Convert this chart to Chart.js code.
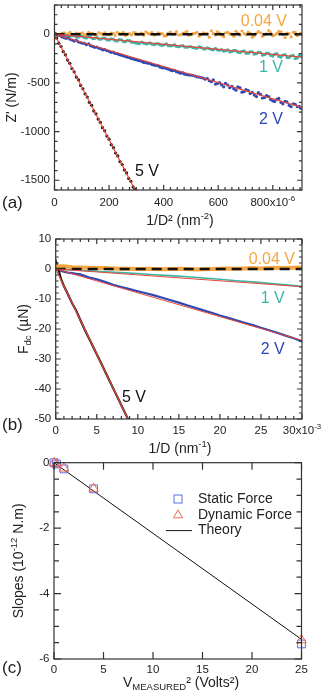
<!DOCTYPE html>
<html>
<head>
<meta charset="utf-8">
<script src="https://cdn.jsdelivr.net/npm/chart.js@4.4.0/dist/chart.umd.min.js"></script>
<style>
  body { margin: 0; background: #fff; }
  #wrap { position: relative; width: 321px; height: 695px; }
  canvas { position: absolute; left: 0; top: 0; }
</style>
</head>
<body>
<div id="wrap">
  <canvas id="chartA" width="321" height="695"></canvas>
  <canvas id="chartB" width="321" height="695"></canvas>
  <canvas id="chartC" width="321" height="695"></canvas>
</div>
<script>
// ---- panel (a) : Z' vs 1/D^2 (x in 1e-6 nm^-2) ----
const aX = [5,20,35,50,65,80,95,110,125,140,155,170,185,200,215,230,245,260,275,290,305,320,335,350,365,380,395,410,425,440,455,470,485,500,515,530,545,560,575,590,605,620,635,650,665,680,695,710,725,740,755,770,785,800,815,830,845,860,875,890,902];
const aY004 = [10,-5,15,2,-8,12,5,-3,18,8,-10,4,14,-6,9,20,3,-12,7,16,-4,11,25,0,-9,13,6,-15,22,4,-6,10,28,-2,8,-20,15,5,35,-8,12,-25,18,2,30,-10,6,22,-30,10,14,-5,38,-15,8,25,-35,5,18,-12,10];
const aY1V = [2,-8,-4,-20,-12,-28,-18,-35,-26,-45,-34,-52,-40,-60,-50,-70,-58,-78,-66,-85,-95,-80,-100,-88,-108,-96,-115,-100,-120,-110,-128,-118,-135,-126,-142,-130,-150,-140,-158,-146,-165,-175,-160,-178,-168,-190,-172,-195,-180,-200,-188,-210,-196,-225,-200,-235,-210,-240,-218,-245,-225];
const aY2V = [-2,-12,-35,-38,-60,-62,-85,-95,-100,-125,-132,-150,-158,-175,-185,-200,-215,-228,-240,-255,-268,-280,-292,-300,-318,-325,-345,-352,-368,-372,-392,-398,-415,-420,-430,-440,-450,-455,-488,-512,-498,-540,-522,-535,-575,-552,-590,-580,-598,-640,-618,-650,-640,-685,-668,-700,-690,-730,-715,-745,-760];
// second, interleaved set of readings
const aXb = [12,27,42,57,72,87,102,117,132,147,162,177,192,207,222,237,252,267,282,297,312,327,342,357,372,387,402,417,432,447,462,477,492,507,522,537,552,567,582,597,612,627,642,657,672,687,702,717,732,747,762,777,792,807,822,837,852,867,882,897];
const aY004b = [-3,8,1,20,-6,3,14,-2,6,-8,17,1,-4,11,-12,6,19,2,-7,13,4,-10,9,18,-3,7,-18,12,1,26,-6,15,-12,5,20,-4,10,-30,6,24,-8,15,3,-20,12,32,-5,8,-14,26,-22,4,17,-8,30,-2,12,-28,20,2];
const aY1Vb = [-10,-2,-16,-22,-14,-30,-22,-40,-30,-44,-48,-40,-58,-48,-66,-55,-74,-62,-82,-90,-96,-92,-98,-102,-100,-110,-108,-118,-116,-125,-122,-132,-130,-138,-145,-136,-152,-148,-160,-162,-158,-170,-182,-165,-185,-176,-198,-182,-205,-185,-215,-195,-218,-205,-228,-215,-238,-222,-250,-215];
const aY2Vb = [-6,-28,-42,-52,-70,-78,-92,-108,-118,-135,-142,-160,-168,-186,-198,-210,-222,-236,-250,-262,-272,-290,-298,-312,-320,-338,-345,-358,-375,-385,-400,-410,-418,-422,-438,-445,-462,-478,-470,-505,-520,-505,-550,-560,-540,-595,-570,-610,-625,-600,-655,-630,-670,-690,-660,-715,-695,-745,-720,-740];
const a5X = [0,8,16,24,32,40,48,56,64,72,80,88,96,104,112,120,128,136,144,152,160,168,176,184,192,200,208,216,224,232,240,248,256,264,272,280,288,294];
const a5Y = [5,-40,-92,-126,-178,-212,-266,-298,-352,-386,-440,-470,-526,-560,-612,-645,-700,-730,-788,-818,-872,-905,-960,-992,-1046,-1078,-1134,-1165,-1220,-1250,-1308,-1338,-1394,-1425,-1482,-1510,-1568,-1590];
const aFitX = [0, 907];
const aFit1Y = [0, -236];
const aFit2Y = [0, -752];
const aFit5X = [0, 296];
const aFit5Y = [0, -1604];
const aXTicks = [0, 200, 400, 600, 800];
const aXLabels = ['0', '200', '400', '600', '800x10^{-6}'];
const aYTicks = [0, -500, -1000, -1500];
const aYLabels = ['0', '-500', '-1000', '-1500'];

// ---- panel (b) : Fdc vs 1/D (x in 1e-3 nm^-1) ----
const b004X = [0,1,2,3,4,5,6,7,8,9,10,11,12,13,14,15,16,17,18,19,20,21,22,23,24,25,26,27,28,29,30];
const b004Y = [0.8,0.9,0.6,0.5,0.4,0.3,0.3,0.2,0.1,0.1,0.0,0.1,0.0,-0.1,0.0,0.1,0.0,-0.2,-0.1,0.0,0.1,0.2,0.1,0.2,0.3,0.2,0.3,0.4,0.3,0.4,0.5];
const b1X = [0,2,4,6,8,10,12,14,16,18,20,22,24,26,28,30];
const b1Y = [0,-0.3,-0.6,-0.9,-1.2,-1.5,-1.9,-2.2,-2.6,-3.0,-3.4,-3.9,-4.3,-4.8,-5.3,-5.8];
const b2X = [0,0.5,1,1.5,2,2.5,3,3.5,4,5,6,7,8,9,10,11,12,13,14,15,16,17,18,19,20,21,22,23,24,25,26,27,28,29,30];
const b2Y = [0,-0.5,-0.9,-1.2,-1.4,-1.6,-1.8,-2.3,-2.8,-3.4,-4.3,-5.3,-6.0,-6.7,-7.4,-8.1,-8.8,-9.6,-10.4,-11.2,-12.1,-12.9,-13.8,-14.6,-15.5,-16.3,-17.1,-17.9,-18.7,-19.6,-20.4,-21.3,-22.2,-23.1,-24.2];
const b5X = [0,0.1,0.3,0.6,1,1.5,2,2.5,3,3.5,4,4.5,5,5.5,6,6.5,7,7.5,8,8.5,9];
const b5Y = [0,2,0.5,-3.0,-5.7,-8.5,-11.4,-13.9,-17.0,-20.0,-22.8,-25.6,-28.4,-31.2,-34.1,-36.9,-39.8,-42.6,-45.4,-48.3,-51.1];
const bFitX = [0, 30];
const bFit1Y = [0, -5.9];
const bFit2Y = [0, -23.8];
const bFit5X = [0, 9];
const bFit5Y = [0, -51.1];
const bXTicks = [0, 5, 10, 15, 20, 25, 30];
const bXLabels = ['0', '5', '10', '15', '20', '25', '30x10^{-3}'];
const bYTicks = [10, 0, -10, -20, -30, -40, -50];
const bYLabels = ['10', '0', '-10', '-20', '-30', '-40', '-50'];

// ---- panel (c) : slopes vs V^2 ----
const cX = [0.0016, 0.25, 1, 4, 25];
const cStatic = [0, -0.04, -0.19, -0.80, -5.54];
const cDynamic = [0, -0.05, -0.17, -0.79, -5.42];
const cTheoryX = [0, 25];
const cTheoryY = [0, -5.40];
const cXTicks = [0, 5, 10, 15, 20, 25];
const cXLabels = ['0', '5', '10', '15', '20', '25'];
const cYTicks = [0, -2, -4, -6];
const cYLabels = ['0', '-2', '-4', '-6'];

const ORANGE = '#f5a63e';
const TEAL = '#3bb5a6';
const BLUE = '#2c48b4';
const RED = '#e8473a';
const FONT = '"Liberation Sans", Arial, sans-serif';

const pts = (xs, ys) => xs.map((x, i) => ({ x: x, y: ys[i] }));

// text with ^{sup} and _{sub} parts
function parseRich(str) {
  const segs = [];
  let i = 0, buf = '';
  while (i < str.length) {
    const c = str[i];
    if ((c === '^' || c === '_') && str[i + 1] === '{') {
      if (buf) { segs.push({ t: buf, k: 0 }); buf = ''; }
      const end = str.indexOf('}', i);
      segs.push({ t: str.slice(i + 2, end), k: c === '^' ? 1 : -1 });
      i = end + 1;
    } else { buf += c; i++; }
  }
  if (buf) segs.push({ t: buf, k: 0 });
  return segs;
}

function drawRich(ctx, str, x, y, size, align) {
  const segs = parseRich(str);
  const small = size * 0.68;
  let w = 0;
  segs.forEach(s => {
    ctx.font = (s.k ? small : size) + 'px ' + FONT;
    s.w = ctx.measureText(s.t).width;
    w += s.w;
  });
  let cx = align === 'center' ? x - w / 2 : align === 'right' ? x - w : x;
  ctx.textAlign = 'left';
  ctx.textBaseline = 'middle';
  segs.forEach(s => {
    ctx.font = (s.k ? small : size) + 'px ' + FONT;
    const dy = s.k === 1 ? -size * 0.36 : s.k === -1 ? size * 0.3 : 0;
    ctx.fillText(s.t, cx, y + dy);
    cx += s.w;
  });
}

// frame, inward ticks on all sides, labels, titles
function framePlugin(o) {
  return {
    id: 'frame',
    afterDatasetsDraw(chart) {
      const ctx = chart.ctx;
      const { left, right, top, bottom } = chart.chartArea;
      const xs = chart.scales.x, ys = chart.scales.y;
      ctx.save();
      ctx.strokeStyle = '#333';
      ctx.lineWidth = 1.2;
      ctx.beginPath();
      const tx = (v, len) => {
        const p = xs.getPixelForValue(v);
        ctx.moveTo(p, bottom); ctx.lineTo(p, bottom - len);
        ctx.moveTo(p, top); ctx.lineTo(p, top + len);
      };
      const ty = (v, len) => {
        const p = ys.getPixelForValue(v);
        ctx.moveTo(left, p); ctx.lineTo(left + len, p);
        ctx.moveTo(right, p); ctx.lineTo(right - len, p);
      };
      if (o.xMinor) for (let v = xs.min; v <= xs.max + 1e-9; v += o.xMinor) tx(v, o.minLen);
      if (o.yMinor) for (let v = ys.min; v <= ys.max + 1e-9; v += o.yMinor) ty(v, o.minLen);
      o.xTicks.forEach(v => tx(v, o.majLen));
      o.yTicks.forEach(v => ty(v, o.majLen));
      ctx.stroke();
      ctx.strokeRect(left, top, right - left, bottom - top);

      ctx.fillStyle = '#222';
      o.xTicks.forEach((v, i) => drawRich(ctx, o.xLabels[i], xs.getPixelForValue(v), bottom + o.xGap, 11.5, 'center'));
      o.yTicks.forEach((v, i) => drawRich(ctx, o.yLabels[i], left - 4.5, ys.getPixelForValue(v), 11.5, 'right'));
      drawRich(ctx, o.xTitle, o.xTitleX, o.xTitleY, 14, 'center');
      ctx.save();
      ctx.translate(o.yTitleX, (top + bottom) / 2);
      ctx.rotate(-Math.PI / 2);
      drawRich(ctx, o.yTitle, 0, 0, 14, 'center');
      ctx.restore();
      drawRich(ctx, o.panel, 2, o.panelY, 17, 'left');

      (o.notes || []).forEach(n => {
        ctx.fillStyle = n.color;
        drawRich(ctx, n.text, xs.getPixelForValue(n.x), ys.getPixelForValue(n.y), 16, n.align);
      });

      if (o.legend) {
        const L = o.legend;
        ctx.lineWidth = 1;
        ctx.strokeStyle = '#5b6ee1';
        ctx.strokeRect(L.x - 4, L.y - 4, 8, 8);
        ctx.strokeStyle = '#ef6a5a';
        ctx.beginPath();
        ctx.moveTo(L.x, L.y + L.dy - 5);
        ctx.lineTo(L.x + 4.5, L.y + L.dy + 3);
        ctx.lineTo(L.x - 4.5, L.y + L.dy + 3);
        ctx.closePath();
        ctx.stroke();
        ctx.strokeStyle = '#111';
        ctx.beginPath();
        ctx.moveTo(L.x - 12, L.y + 2 * L.dy);
        ctx.lineTo(L.x + 14, L.y + 2 * L.dy);
        ctx.stroke();
        ctx.fillStyle = '#222';
        L.items.forEach((t, i) => drawRich(ctx, t, L.x + 20, L.y + i * L.dy, 14, 'left'));
      }
      ctx.restore();
    }
  };
}

function makeChart(id, padding, xr, yr, datasets, frame) {
  return new Chart(document.getElementById(id), {
    type: 'scatter',
    data: { datasets: datasets },
    options: {
      responsive: false,
      animation: false,
      devicePixelRatio: 1,
      layout: { padding: padding },
      plugins: { legend: { display: false }, tooltip: { enabled: false } },
      scales: {
        x: { type: 'linear', display: false, min: xr[0], max: xr[1] },
        y: { type: 'linear', display: false, min: yr[0], max: yr[1] }
      }
    },
    plugins: [framePlugin(frame)]
  });
}

const dot = (xs, ys, color, order) => ({
  data: pts(xs, ys), pointRadius: 1.6, pointBackgroundColor: color,
  pointBorderWidth: 0, showLine: false, order: order
});
const line = (xs, ys, color, width, order, dash) => ({
  data: pts(xs, ys), showLine: true, borderColor: color, borderWidth: width,
  borderDash: dash || [], pointRadius: 0, order: order
});

makeChart('chartA', { left: 54.5, top: 5, right: 19, bottom: 505 }, [0, 907], [-1600, 300], [
  line(aFitX, aFit1Y, RED, 1.2, 0),
  line(aFitX, aFit2Y, RED, 1.2, 0),
  line(aFit5X, aFit5Y, RED, 1.2, 0),
  line(aFitX, [0, 0], '#111', 2.5, 1, [10, 6]),
  dot(a5X, a5Y, '#111', 2),
  dot(aX, aY2V, BLUE, 3),
  dot(aXb, aY2Vb, BLUE, 3),
  dot(aX, aY1V, TEAL, 4),
  dot(aXb, aY1Vb, TEAL, 4),
  dot(aX, aY004, ORANGE, 5),
  dot(aXb, aY004b, ORANGE, 5)
], {
  xTicks: aXTicks, xLabels: aXLabels, yTicks: aYTicks, yLabels: aYLabels,
  xMinor: 25, yMinor: 100, majLen: 5, minLen: 3, xGap: 12.5,
  xTitle: '1/D² (nm^{-2})', xTitleX: 180, xTitleY: 221,
  yTitle: "Z' (N/m)", yTitleX: 12, panel: '(a)', panelY: 203,
  notes: [
    { text: '0.04 V', x: 852, y: 128, color: ORANGE, align: 'right' },
    { text: '1 V', x: 837, y: -347, color: TEAL, align: 'right' },
    { text: '2 V', x: 837, y: -882, color: BLUE, align: 'right' },
    { text: '5 V', x: 295, y: -1415, color: '#111', align: 'left' }
  ]
});

makeChart('chartB', { left: 55.7, top: 239, right: 19, bottom: 276 }, [0, 30], [-50, 10], [
  line(bFitX, bFit1Y, RED, 1, 0),
  line(bFitX, bFit2Y, RED, 1, 0),
  line(bFit5X, bFit5Y, RED, 1.2, 0),
  line(bFitX, [0, 0], '#111', 2.5, 1, [10, 6]),
  line(b004X, b004Y, ORANGE, 4, 2),
  line(b5X, b5Y, '#1a1a1a', 2.2, 3),
  line(b2X, b2Y, BLUE, 2.2, 3),
  line(b1X, b1Y, TEAL, 1.6, 3)
], {
  xTicks: bXTicks, xLabels: bXLabels, yTicks: bYTicks, yLabels: bYLabels,
  xMinor: 1, yMinor: 2, majLen: 5, minLen: 3, xGap: 12,
  xTitle: '1/D (nm^{-1})', xTitleX: 180, xTitleY: 449,
  yTitle: 'F_{dc} (µN)', yTitleX: 24, panel: '(b)', panelY: 425,
  notes: [
    { text: '0.04 V', x: 29.15, y: 3.0, color: ORANGE, align: 'right' },
    { text: '1 V', x: 27.9, y: -9.7, color: TEAL, align: 'right' },
    { text: '2 V', x: 27.9, y: -27, color: BLUE, align: 'right' },
    { text: '5 V', x: 8.07, y: -43, color: '#111', align: 'left' }
  ]
});

makeChart('chartC', { left: 54, top: 462.7, right: 19.5, bottom: 36 }, [0, 25], [-6, 0], [
  line(cTheoryX, cTheoryY, '#111', 1, 2),
  { data: pts(cX, cStatic), pointStyle: 'rect', pointRadius: 5.5, pointBorderColor: '#5b6ee1',
    pointBackgroundColor: 'rgba(0,0,0,0)', pointBorderWidth: 1, order: 1, clip: false },
  { data: pts(cX, cDynamic), pointStyle: 'triangle', pointRadius: 5.5, pointBorderColor: '#ef6a5a',
    pointBackgroundColor: 'rgba(0,0,0,0)', pointBorderWidth: 1, order: 0, clip: false }
], {
  xTicks: cXTicks, xLabels: cXLabels, yTicks: cYTicks, yLabels: cYLabels,
  xMinor: 0, yMinor: 0.5, majLen: 7, minLen: 5, xGap: 11,
  xTitle: 'V_{MEASURED}² (Volts²)', xTitleX: 181, xTitleY: 683,
  yTitle: 'Slopes (10^{-12} N.m)', yTitleX: 19, panel: '(c)', panelY: 668,
  legend: { x: 178, y: 499, dy: 15.8, items: ['Static Force', 'Dynamic Force', 'Theory'] }
});
</script>
</body>
</html>
